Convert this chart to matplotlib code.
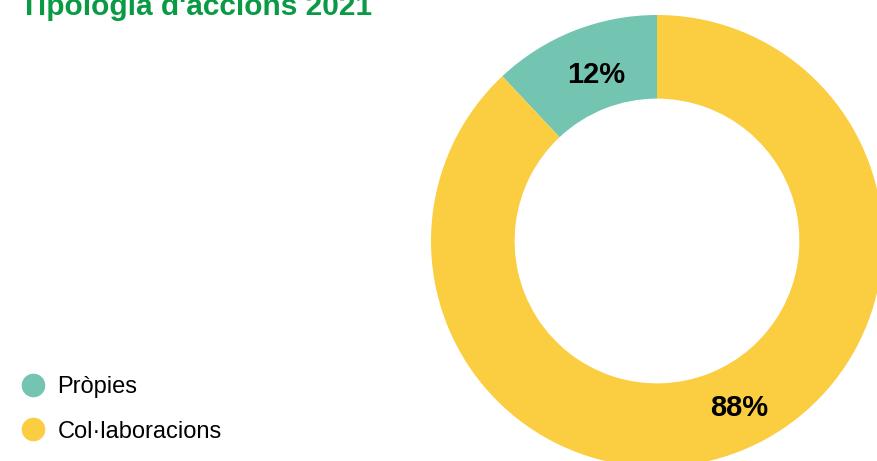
import matplotlib.pyplot as plt
import matplotlib.transforms as mtransforms
from matplotlib.lines import Line2D

# Dades
categories = ['Pròpies', 'Col·laboracions']
valors = [12, 88]
colors = ['#74C4B2', '#FBCD40']
titol = "Tipologia d'accions 2021"

plt.rcParams['font.family'] = ['Liberation Sans', 'DejaVu Sans']

W, H = 877, 461
fig = plt.figure(figsize=(W / 100, H / 100), dpi=100)

# Donut: centre ~ (657, 241) px, radi exterior ~ 226 px
cx, cy, r = 657, 241, 226
ax = fig.add_axes([(cx - r) / W, (H - cy - r) / H, 2 * r / W, 2 * r / H])
wedges, texts, autotexts = ax.pie(
    valors, colors=colors, startangle=90, counterclock=True,
    autopct='%d%%', pctdistance=0.81,
    wedgeprops=dict(width=0.37, edgecolor='none'),
    textprops=dict(fontsize=21, fontweight='bold', color='black'))
ax.set_xlim(-1, 1)
ax.set_ylim(-1, 1)
ax.set_aspect('equal')
ax.axis('off')

# petit desplaçament de les etiquetes (en punts) per quadrar amb l'original
desplac = [(5, -3), (11, 2)]
for t, (dx, dy) in zip(autotexts, desplac):
    t.set_transform(mtransforms.offset_copy(ax.transData, fig=fig, x=dx, y=dy, units='points'))

# Títol (tallat a dalt com a l'original)
fig.text(20 / W, 1 - 15 / H, titol, fontsize=21.5, fontweight='bold',
         color='#0A9A45', va='baseline', ha='left')

# Llegenda
handles = [Line2D([], [], marker='o', linestyle='none', markersize=17,
                  markerfacecolor=c, markeredgecolor='none') for c in colors]
fig.legend(handles, categories, loc='center left',
           bbox_to_anchor=(21 / W, 1 - 409.5 / H), frameon=False,
           fontsize=17, handlelength=1.0, handletextpad=0.55,
           labelspacing=0.95, borderpad=0, borderaxespad=0)

plt.savefig('out.png', dpi=100)
